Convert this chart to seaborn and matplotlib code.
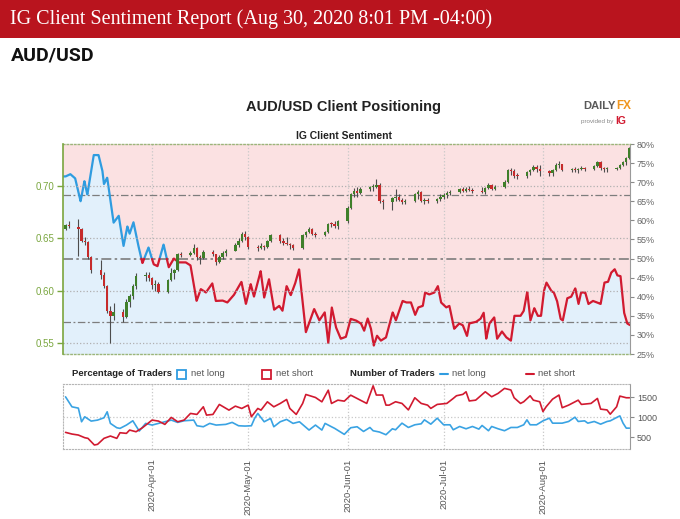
import numpy as np
import pandas as pd
import matplotlib
matplotlib.use("Agg")
import matplotlib.pyplot as plt
import matplotlib.dates as mdates
from matplotlib.patches import Rectangle
from matplotlib.lines import Line2D
import seaborn as sns

# ---- data ----
start = pd.Timestamp("2020-03-05")
candle_days = pd.bdate_range("2020-03-05", "2020-08-28")

# AUD/USD daily candles (Mar 5 - Aug 28, 2020)
opens = [0.6595, 0.6625,
         0.6605, 0.6590, 0.6480, 0.6470, 0.6320,
         0.6200, 0.6150, 0.6050, 0.5810, 0.5760,
         0.5800, 0.5750, 0.5890, 0.5950, 0.6050,
         0.6140, 0.6150, 0.6120, 0.6060, 0.6070,
         0.5990, 0.6100, 0.6170, 0.6200, 0.6350,
         0.6345, 0.6365, 0.6410, 0.6320, 0.6310,
         0.6370, 0.6350, 0.6280, 0.6320, 0.6365,
         0.6385, 0.6440, 0.6480, 0.6545, 0.6510,
         0.6420, 0.6410, 0.6430, 0.6420, 0.6480,
         0.6530, 0.6480, 0.6460, 0.6450, 0.6440,
         0.6410, 0.6530, 0.6560, 0.6590, 0.6545,
         0.6530, 0.6560, 0.6640, 0.6635, 0.6620,
         0.6670, 0.6790, 0.6920, 0.6950, 0.6935,
         0.6970, 0.6990, 0.6995, 0.7010, 0.6860,
         0.6850, 0.6890, 0.6900, 0.6870, 0.6850,
         0.6860, 0.6920, 0.6940, 0.6860, 0.6870,
         0.6860, 0.6880, 0.6900, 0.6910, 0.6930,
         0.6940, 0.6970, 0.6950, 0.6975, 0.6960,
         0.6955, 0.6945, 0.6980, 0.7010, 0.6975,
         0.6990, 0.7040, 0.7150, 0.7140, 0.7100,
         0.7095, 0.7130, 0.7150, 0.7185, 0.7160,
         0.7140, 0.7120, 0.7150, 0.7200, 0.7210,
         0.7150, 0.7160, 0.7150, 0.7160, 0.7170,
         0.7160, 0.7190, 0.7230, 0.7170, 0.7160,
         0.7165, 0.7175, 0.7200, 0.7230, 0.7270]
highs = [0.6640, 0.6670,
         0.6686, 0.6600, 0.6510, 0.6480, 0.6330,
         0.6290, 0.6180, 0.6060, 0.5860, 0.5880,
         0.5830, 0.5920, 0.5970, 0.6070, 0.6170,
         0.6180, 0.6180, 0.6130, 0.6100, 0.6080,
         0.6110, 0.6220, 0.6210, 0.6360, 0.6370,
         0.6380, 0.6445, 0.6420, 0.6340, 0.6390,
         0.6390, 0.6355, 0.6340, 0.6380, 0.6400,
         0.6460, 0.6500, 0.6560, 0.6570, 0.6520,
         0.6440, 0.6460, 0.6440, 0.6490, 0.6540,
         0.6540, 0.6500, 0.6510, 0.6460, 0.6450,
         0.6540, 0.6570, 0.6610, 0.6600, 0.6560,
         0.6570, 0.6650, 0.6660, 0.6670, 0.6680,
         0.6810, 0.6930, 0.6980, 0.6990, 0.6990,
         0.7000, 0.7020, 0.7065, 0.7030, 0.6880,
         0.6900, 0.6975, 0.6920, 0.6890, 0.6880,
         0.6930, 0.6960, 0.6950, 0.6890, 0.6890,
         0.6890, 0.6920, 0.6930, 0.6950, 0.6960,
         0.6980, 0.6990, 0.6990, 0.7000, 0.6980,
         0.6990, 0.6990, 0.7030, 0.7020, 0.7010,
         0.7060, 0.7160, 0.7170, 0.7160, 0.7120,
         0.7140, 0.7160, 0.7200, 0.7200, 0.7200,
         0.7150, 0.7160, 0.7220, 0.7240, 0.7210,
         0.7170, 0.7180, 0.7170, 0.7190, 0.7180,
         0.7200, 0.7240, 0.7240, 0.7180, 0.7180,
         0.7185, 0.7210, 0.7240, 0.7280, 0.7370]
lows = [0.6585, 0.6600,
        0.6330, 0.6470, 0.6440, 0.6300, 0.6170,
        0.6110, 0.6030, 0.5790, 0.5506, 0.5720,
        0.5700, 0.5740, 0.5850, 0.5920, 0.6020,
        0.6090, 0.6090, 0.6020, 0.6000, 0.5980,
        0.5980, 0.6090, 0.6110, 0.6190, 0.6320,
        0.6330, 0.6350, 0.6290, 0.6260, 0.6300,
        0.6330, 0.6250, 0.6270, 0.6300, 0.6330,
        0.6380, 0.6420, 0.6470, 0.6490, 0.6400,
        0.6380, 0.6400, 0.6390, 0.6410, 0.6470,
        0.6460, 0.6440, 0.6440, 0.6400, 0.6390,
        0.6400, 0.6510, 0.6550, 0.6530, 0.6510,
        0.6520, 0.6550, 0.6610, 0.6600, 0.6590,
        0.6650, 0.6780, 0.6900, 0.6900, 0.6920,
        0.6950, 0.6950, 0.6980, 0.6840, 0.6780,
        0.6770, 0.6860, 0.6860, 0.6830, 0.6830,
        0.6850, 0.6880, 0.6850, 0.6830, 0.6840,
        0.6840, 0.6860, 0.6880, 0.6890, 0.6910,
        0.6930, 0.6940, 0.6940, 0.6950, 0.6930,
        0.6930, 0.6920, 0.6970, 0.6960, 0.6960,
        0.6980, 0.7030, 0.7110, 0.7080, 0.7070,
        0.7080, 0.7110, 0.7140, 0.7130, 0.7100,
        0.7100, 0.7100, 0.7140, 0.7170, 0.7140,
        0.7130, 0.7130, 0.7120, 0.7150, 0.7140,
        0.7150, 0.7180, 0.7150, 0.7130, 0.7130,
        0.7150, 0.7160, 0.7190, 0.7200, 0.7260]
closes = [0.6625, 0.6615,
          0.6590, 0.6480, 0.6470, 0.6320, 0.6200,
          0.6150, 0.6050, 0.5810, 0.5760, 0.5800,
          0.5750, 0.5890, 0.5950, 0.6050, 0.6140,
          0.6150, 0.6120, 0.6060, 0.6070, 0.5990,
          0.6100, 0.6170, 0.6200, 0.6350, 0.6345,
          0.6365, 0.6410, 0.6320, 0.6310, 0.6370,
          0.6350, 0.6280, 0.6320, 0.6365, 0.6385,
          0.6440, 0.6480, 0.6545, 0.6510, 0.6420,
          0.6410, 0.6430, 0.6420, 0.6480, 0.6530,
          0.6480, 0.6460, 0.6450, 0.6440, 0.6410,
          0.6530, 0.6560, 0.6590, 0.6545, 0.6530,
          0.6560, 0.6640, 0.6635, 0.6620, 0.6670,
          0.6790, 0.6920, 0.6950, 0.6935, 0.6970,
          0.6990, 0.6995, 0.7010, 0.6860, 0.6850,
          0.6890, 0.6900, 0.6870, 0.6850, 0.6860,
          0.6920, 0.6940, 0.6860, 0.6870, 0.6860,
          0.6880, 0.6900, 0.6910, 0.6930, 0.6940,
          0.6970, 0.6950, 0.6975, 0.6960, 0.6955,
          0.6945, 0.6980, 0.7010, 0.6975, 0.6990,
          0.7040, 0.7150, 0.7140, 0.7100, 0.7095,
          0.7130, 0.7150, 0.7185, 0.7160, 0.7140,
          0.7120, 0.7150, 0.7200, 0.7210, 0.7150,
          0.7160, 0.7150, 0.7160, 0.7170, 0.7160,
          0.7190, 0.7230, 0.7170, 0.7160, 0.7165,
          0.7175, 0.7200, 0.7230, 0.7270, 0.7360]

# IG client sentiment: % of traders net long (days after Mar 5)
sent_day = [0, 1.5, 3, 4.7, 5.9, 6.8, 8.8, 10.3, 11.5, 12, 13, 15, 16.6, 18.1,
            19.3, 20, 21.2, 22.5, 24, 25.9, 27.5, 28.7, 30.6, 32.2, 33.8, 35.3,
            37.5, 39, 40.9, 42.2, 43.8, 45.8, 46.9, 49, 50.5, 52.5, 54.9, 56.3,
            57.8, 58.8, 60.9, 62, 63.5, 65.1, 66.7, 67.7, 69, 70.3, 71.6, 72.9,
            75, 77.6, 79.2, 80.9, 82, 83.1, 84.4, 85.9, 87.5, 89, 90.6, 92.2,
            93.2, 94.3, 95.3, 96.2, 97.2, 98.4, 100, 102.1, 103.1, 105.2, 106.3,
            107.8, 109.1, 110.1, 111.5, 112.2, 113.5, 115.1, 116.2, 117.2, 118.8,
            119.8, 121.3, 122.9, 124, 125.3, 126, 128.1, 129.5, 130.5, 131.3,
            132.3, 133.8, 134.7, 136.2, 137.5, 139, 140.1, 142, 143, 144.1, 145.1,
            146.3, 147.4, 148.4, 149.3, 150.1, 151.6, 152.4, 153.4, 154.5, 155.2,
            156.6, 157.8, 159.1, 160.1, 160.9, 162.2, 163.2, 164.6, 165.6, 167,
            168.2, 169.3, 170.3, 171.4, 172.2, 173.2, 174.3, 175.3, 176.3]
sent_long_pct = [71.5, 72.1, 71.0, 65.0, 70.3, 66.7, 77.1, 77.1, 73.0, 69.5, 71.2,
                 59.4, 61.2, 53.3, 58.4, 56.5, 59.5, 54.2, 48.8, 52.9, 48.5, 48.0,
                 53.7, 47.7, 50.0, 49.0, 49.0, 48.2, 38.9, 42.0, 41.1, 43.5, 38.9,
                 39.0, 38.5, 40.4, 43.9, 38.1, 43.3, 40.0, 46.7, 39.8, 44.6, 36.6,
                 37.6, 36.3, 42.8, 40.4, 43.3, 47.2, 30.7, 36.8, 33.8, 35.9, 27.9,
                 37.2, 32.0, 29.0, 29.5, 34.2, 33.8, 33.0, 31.1, 34.3, 31.7, 27.2,
                 29.8, 28.5, 29.3, 35.9, 33.8, 38.9, 38.5, 38.5, 35.2, 37.2, 37.6,
                 41.1, 40.6, 41.1, 42.8, 38.5, 37.2, 37.6, 31.6, 33.0, 32.5, 29.7,
                 33.0, 33.4, 34.2, 35.8, 29.0, 33.0, 34.6, 29.0, 30.9, 29.4, 28.5,
                 35.0, 35.0, 36.3, 41.3, 33.8, 37.0, 35.0, 35.0, 41.5, 43.7, 41.5,
                 41.1, 38.9, 34.2, 33.8, 39.6, 40.0, 42.2, 38.1, 41.1, 41.1, 38.1,
                 38.9, 38.6, 38.1, 43.7, 43.9, 46.3, 47.2, 45.6, 45.4, 35.9, 33.0,
                 32.5]

# number of traders
long_cnt_day = [0, 2, 4, 5, 6, 8, 10, 12, 13, 14, 16, 17, 19, 21, 23, 25, 27, 29,
                31, 33, 35, 37, 40, 41, 43, 45, 47, 50, 52, 54, 56, 58, 59, 60, 62,
                64, 65, 67, 69, 71, 73, 76, 78, 80, 81, 83, 84, 87, 89, 91, 93, 95,
                96, 98, 100, 102, 103, 105, 107, 109, 111, 112, 114, 116, 118, 120,
                121, 123, 125, 127, 129, 130, 132, 133, 135, 137, 139, 141, 143,
                144, 145, 147, 149, 151, 152, 155, 157, 159, 160, 162, 163, 165,
                167, 169, 170, 172, 173, 174, 175, 176]
long_cnt = [1508, 1258, 1225, 883, 1008, 900, 925, 983, 1133, 842, 733, 717, 800,
            908, 650, 842, 800, 842, 883, 925, 867, 908, 925, 783, 758, 842, 800,
            817, 867, 783, 775, 783, 967, 1092, 883, 967, 758, 883, 942, 842, 883,
            675, 800, 675, 842, 758, 717, 567, 733, 758, 640, 740, 658, 625, 558,
            707, 682, 848, 740, 807, 832, 931, 823, 973, 807, 807, 682, 765, 707,
            765, 699, 790, 658, 765, 707, 658, 740, 740, 807, 931, 807, 807, 906,
            973, 848, 848, 890, 998, 890, 906, 848, 890, 823, 890, 906, 990, 1031,
            848, 723, 723]
short_cnt_day = [0, 2, 4, 6, 7, 9, 10, 12, 14, 16, 17, 19, 20, 22, 24, 27, 29, 31,
                 33, 35, 37, 39, 41, 43, 44, 46, 48, 51, 53, 55, 57, 58, 60, 61, 63,
                 65, 67, 69, 70, 72, 74, 75, 78, 80, 82, 83, 85, 87, 89, 91, 92, 94,
                 96, 97, 99, 100, 101, 103, 105, 107, 109, 111, 113, 114, 116, 119,
                 121, 122, 124, 125, 126, 128, 131, 133, 135, 137, 139, 140, 142,
                 143, 145, 146, 148, 149, 150, 152, 154, 155, 157, 160, 161, 164,
                 166, 167, 169, 170, 172, 173, 175, 176]
short_cnt = [617, 575, 550, 483, 467, 300, 317, 467, 525, 467, 608, 592, 675, 633,
             733, 925, 900, 817, 992, 883, 925, 1092, 1067, 1258, 1050, 1067, 1317,
             1175, 1275, 1217, 1300, 1008, 1217, 1175, 1383, 1258, 1342, 1442, 1217,
             1067, 1342, 1567, 1492, 1383, 1675, 1342, 1425, 1400, 1550, 1467, 1425,
             1343, 1785, 1553, 1553, 1300, 1300, 1385, 1343, 1180, 1485, 1343, 1300,
             1218, 1318, 1343, 1468, 1535, 1570, 1635, 1405, 1425, 1635, 1510, 1595,
             1720, 1680, 1485, 1343, 1385, 1535, 1425, 1385, 1138, 1260, 1450, 1553,
             1235, 1300, 1425, 1318, 1343, 1468, 1200, 1180, 1073, 1260, 1527, 1485,
             1485]

month_ticks = pd.to_datetime(["2020-04-01", "2020-05-01", "2020-06-01",
                              "2020-07-01", "2020-08-01"])

# ---- styling ----
sns.set_style("white")
plt.rcParams["font.family"] = ["Liberation Sans", "DejaVu Sans"]

W, H = 680, 519
PINK = "#fbe1e2"
LBLUE = "#e2f0fb"
BLUE = "#2f9ce0"
RED = "#d11a30"
GREEN_AX = "#7aa63f"
GREY = "#666666"


def fx(px):
    return px / W


def fy(py):
    return 1 - py / H


fig = plt.figure(figsize=(6.8, 5.19), dpi=100)

# header band
fig.add_artist(Rectangle((0, fy(38)), 1, 38 / H, transform=fig.transFigure,
                         facecolor="#b9141e", edgecolor="none"))
fig.text(fx(10), fy(19), "IG Client Sentiment Report (Aug 30, 2020 8:01 PM -04:00)",
         color="white", fontsize=14.5, family=["Liberation Serif", "DejaVu Serif"],
         va="center", ha="left")
fig.text(fx(11), fy(55), "AUD/USD", fontsize=14, fontweight="bold",
         family=["Roboto", "DejaVu Sans"], va="center", ha="left", color="#111111")

fig.text(fx(344), fy(107), "AUD/USD Client Positioning", fontsize=10.5,
         fontweight="bold", ha="center", va="center", color="#222222")
fig.text(fx(344), fy(136), "IG Client Sentiment", fontsize=7.5,
         fontweight="bold", ha="center", va="center", color="#222222")

# DailyFX logo
fig.text(fx(583), fy(106), "DAILY", fontsize=8, fontweight="bold",
         color="#5a5a5a", ha="left", va="center")
fig.text(fx(616), fy(106), "FX", fontsize=8.5, fontweight="bold",
         color="#f0961e", ha="left", va="center")
fig.text(fx(613), fy(122), "provided by", fontsize=4.5, color="#888888",
         ha="right", va="center")
fig.text(fx(615), fy(121), "IG", fontsize=7.5, fontweight="bold",
         color="#d11a30", ha="left", va="center")

x_left = pd.Timestamp("2020-03-04 05:00")
x_right = pd.Timestamp("2020-08-28 04:00")

# ---- top panel: sentiment background + price candles ----
ax_s = fig.add_axes([fx(63), fy(354), fx(630) - fx(63), 210 / H])
ax_s.set_facecolor(PINK)
ax_s.set_xlim(x_left, x_right)
ax_s.set_ylim(25, 80)

sx = mdates.date2num(start + pd.to_timedelta(sent_day, unit="D"))
fine = np.linspace(mdates.date2num(x_left), mdates.date2num(x_right), 4000)
yf = np.interp(fine, sx, sent_long_pct)
ax_s.fill_between(fine, 25, yf, color=LBLUE, lw=0, zorder=1)
for lvl in (100 / 3, 50, 200 / 3):
    ax_s.axhline(lvl, color="#7d7d7d", lw=1.2 if lvl == 50 else 0.9,
                 ls=(0, (6, 2, 1.5, 2)), zorder=1.5)
ax_s.plot(fine, np.where(yf >= 50, yf, np.nan), color=BLUE, lw=1.6, zorder=2)
ax_s.plot(fine, np.where(yf <= 50, yf, np.nan), color=RED, lw=1.6, zorder=2)

ax_s.set_xticks(month_ticks)
ax_s.xaxis.grid(True, color="#c8c8c8", ls=":", lw=0.9)
ax_s.tick_params(axis="x", length=0, labelbottom=False)

ax_p = ax_s.twinx()

# twinx moves the original ticks to the left, so place them afterwards
ax_s.yaxis.tick_right()
ax_s.set_yticks(range(25, 81, 5))
ax_s.set_yticklabels([f"{v}%" for v in range(25, 81, 5)])
ax_s.tick_params(axis="y", colors="#8a8a8a", labelsize=6.5, length=3, width=0.8,
                 pad=2, labelcolor=GREY)
ax_s.spines["left"].set_visible(False)
ax_s.spines["right"].set_color("#9a9a9a")
for side in ("top", "bottom"):
    ax_s.spines[side].set_linestyle(":")
    ax_s.spines[side].set_color("#9bb57a")
    ax_s.spines[side].set_linewidth(1.0)

ax_p.set_ylim(0.5398, 0.7401)
ax_p.yaxis.tick_left()
ax_p.set_yticks([0.55, 0.60, 0.65, 0.70])
ax_p.set_yticklabels(["0.55", "0.60", "0.65", "0.70"])
ax_p.tick_params(axis="y", colors=GREEN_AX, labelsize=7, length=4, width=1, pad=2)
ax_p.yaxis.grid(True, color="#b0b0b0", ls=":", lw=0.9)
ax_p.set_axisbelow(True)
for side in ("top", "bottom", "right"):
    ax_p.spines[side].set_visible(False)
ax_p.spines["left"].set_color(GREEN_AX)
ax_p.spines["left"].set_linewidth(1.2)

cx = mdates.date2num(candle_days)
o = np.array(opens)
c = np.array(closes)
ax_p.vlines(cx, lows, highs, color="#4d4d4d", lw=0.8, zorder=3)
body_col = np.where(c >= o, "#3f7f2a", "#c62b2b")
ax_p.bar(cx, np.maximum(np.abs(c - o), 0.0008), bottom=np.minimum(o, c),
         width=0.75, color=body_col, edgecolor="none", zorder=4)
ax_p.set_xlim(x_left, x_right)

# ---- legend row ----
ly = fy(374)
fig.text(fx(72), ly, "Percentage of Traders", fontsize=6.8, fontweight="bold",
         va="center", ha="left", color="#222222")
fig.add_artist(Rectangle((fx(177), fy(378.5)), 9 / W, 9 / H, transform=fig.transFigure,
                         facecolor="white", edgecolor=BLUE, lw=1.3))
fig.text(fx(191), ly, "net long", fontsize=6.8, va="center", ha="left", color="#555555")
fig.add_artist(Rectangle((fx(262), fy(378.5)), 9 / W, 9 / H, transform=fig.transFigure,
                         facecolor="white", edgecolor=RED, lw=1.3))
fig.text(fx(276), ly, "net short", fontsize=6.8, va="center", ha="left", color="#555555")
fig.text(fx(350), ly, "Number of Traders", fontsize=6.8, fontweight="bold",
         va="center", ha="left", color="#222222")
fig.add_artist(Line2D([fx(440), fx(448)], [ly, ly], transform=fig.transFigure,
                      color=BLUE, lw=1.5))
fig.text(fx(452), ly, "net long", fontsize=6.8, va="center", ha="left", color="#555555")
fig.add_artist(Line2D([fx(526), fx(534)], [ly, ly], transform=fig.transFigure,
                      color=RED, lw=1.5))
fig.text(fx(538), ly, "net short", fontsize=6.8, va="center", ha="left", color="#555555")

# ---- bottom panel: trader counts ----
ax_b = fig.add_axes([fx(63), fy(449), fx(630) - fx(63), 65 / H])
long_df = pd.DataFrame({"date": start + pd.to_timedelta(long_cnt_day, unit="D"),
                        "traders": long_cnt})
short_df = pd.DataFrame({"date": start + pd.to_timedelta(short_cnt_day, unit="D"),
                         "traders": short_cnt})
sns.lineplot(data=long_df, x="date", y="traders", ax=ax_b, color="#3aa3e3", lw=1.2)
sns.lineplot(data=short_df, x="date", y="traders", ax=ax_b, color=RED, lw=1.2)
ax_b.set_xlim(x_left, x_right)
ax_b.set_ylim(200, 1830)
ax_b.set_xlabel("")
ax_b.set_ylabel("")
ax_b.yaxis.tick_right()
ax_b.set_yticks([500, 1000, 1500])
ax_b.set_yticklabels(["500", "1000", "1500"])
ax_b.tick_params(axis="y", colors="#8a8a8a", labelsize=6.5, length=3, width=0.8,
                 pad=2, labelcolor="#555555")
ax_b.set_xticks(month_ticks)
ax_b.set_xticklabels([d.strftime("%Y-%b-%d") for d in month_ticks], rotation=90)
ax_b.tick_params(axis="x", colors="#8a8a8a", labelsize=6.8, length=5, width=0.8,
                 pad=2, labelcolor="#555555")
ax_b.xaxis.grid(True, color="#c8c8c8", ls=":", lw=0.9)
ax_b.axhline(1000, color="#c8c8c8", ls=":", lw=0.9, zorder=0)
for side in ("top", "bottom", "left"):
    ax_b.spines[side].set_linestyle(":")
    ax_b.spines[side].set_color("#b5b5b5")
ax_b.spines["right"].set_color("#9a9a9a")

fig.savefig("out.png", dpi=100)
